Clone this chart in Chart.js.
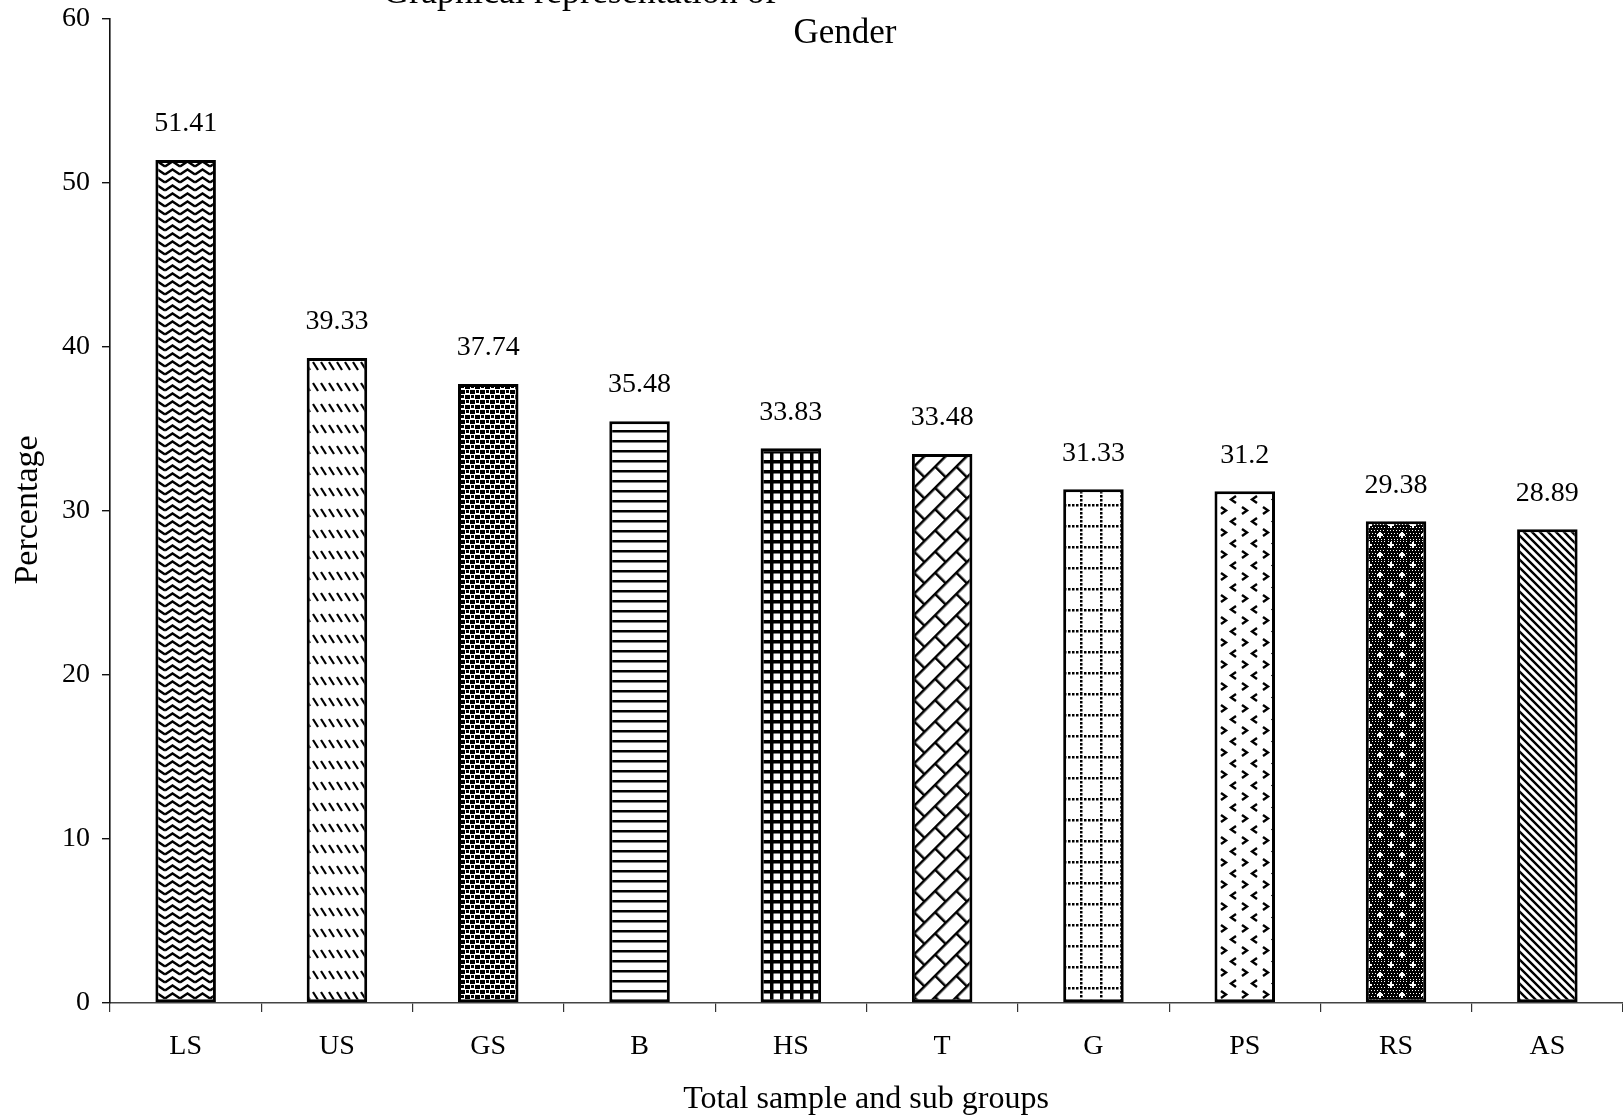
<!DOCTYPE html>
<html>
<head>
<meta charset="utf-8">
<title>Gender</title>
<script src="https://cdn.jsdelivr.net/npm/chart.js@4.4.1/dist/chart.umd.min.js"></script>
<style>
  html, body { margin: 0; padding: 0; background: #fff; overflow: hidden; }
  canvas { display: block; }
</style>
</head>
<body>
<canvas id="genderChart" width="1623" height="1118"></canvas>
<script>
// Sub group percentages
const groups = ['LS', 'US', 'GS', 'B', 'HS', 'T', 'G', 'PS', 'RS', 'AS'];
const percentages = [51.41, 39.33, 37.74, 35.48, 33.83, 33.48, 31.33, 31.2, 29.38, 28.89];
const yTicks = [0, 10, 20, 30, 40, 50, 60];

const FONT = "'Liberation Serif', 'Times New Roman', serif";

// Small offscreen tile, black ink on white paper
function tile(w, h, draw, bg) {
    const c = document.createElement('canvas');
    c.width = w;
    c.height = h;
    const g = c.getContext('2d');
    g.fillStyle = bg || '#fff';
    g.fillRect(0, 0, w, h);
    g.fillStyle = '#000';
    g.strokeStyle = '#000';
    g.lineCap = 'butt';
    draw(g, w, h);
    return c;
}

const canvasEl = document.getElementById('genderChart');
const ctx = canvasEl.getContext('2d');

function pattern(c, matrix) {
    const p = ctx.createPattern(c, 'repeat');
    if (matrix) p.setTransform(matrix);
    return p;
}

// One hatch style per bar
const hatches = [
    // LS - wavy zigzag rows
    pattern(tile(15, 8, (g) => {
        g.lineWidth = 2.4;
        g.beginPath();
        g.moveTo(0, 6.5); g.lineTo(7.5, 1.5); g.lineTo(15, 6.5);
        g.stroke();
    })),
    // US - rows of short back-slashes
    pattern(tile(8, 21, (g) => {
        g.lineWidth = 2.2;
        g.beginPath();
        g.moveTo(1, 5); g.lineTo(6, 13);
        g.stroke();
    })),
    // GS - dense staggered blocks
    pattern(tile(10, 10, (g) => {
        g.fillRect(0, 0, 5, 4);
        g.fillRect(5, 5, 5, 4);
        g.fillRect(6, 0, 3, 3);
        g.fillRect(1, 5, 3, 3);
    })),
    // B - horizontal lines
    pattern(tile(4, 10, (g) => {
        g.fillRect(0, 0, 4, 2.5);
    })),
    // HS - heavy grid
    pattern(tile(10, 10, (g) => {
        g.fillRect(0, 0, 10, 3.5);
        g.fillRect(0, 0, 3.5, 10);
    })),
    // T - diagonal brickwork
    pattern(tile(30, 30, (g) => {
        g.fillRect(0, 0, 30, 2.5);
        g.fillRect(0, 15, 30, 2.5);
        g.fillRect(0, 0, 2.5, 15);
        g.fillRect(15, 15, 2.5, 15);
    }), new DOMMatrix().rotateSelf(-45)),
    // G - dotted grid
    pattern(tile(20, 21, (g) => {
        for (let x = 0; x < 20; x += 4) g.fillRect(x, 0, 2.5, 2.5);
        for (let y = 4; y < 21; y += 4) g.fillRect(0, y, 2.5, 2.5);
    })),
    // PS - alternating chevrons
    pattern(tile(21, 22, (g) => {
        g.lineWidth = 2.4;
        g.beginPath();
        g.moveTo(3, 1); g.lineTo(8, 4.5); g.lineTo(3, 8);
        g.moveTo(18, 12); g.lineTo(13, 15.5); g.lineTo(18, 19);
        g.stroke();
    })),
    // RS - black with white speckle and stars
    pattern(tile(22, 20, (g) => {
        g.fillStyle = '#fff';
        for (let y = 1; y < 20; y += 3) {
            for (let x = (y % 2) + 1; x < 22; x += 3) g.fillRect(x, y, 1, 1);
        }
        const star = (cx, cy) => {
            g.fillRect(cx - 1, cy - 3, 2, 6);
            g.fillRect(cx - 3, cy - 1, 6, 2);
        };
        star(5, 5);
        star(16, 15);
    }, '#000')),
    // AS - back-slash diagonals
    pattern(tile(8, 8, (g) => {
        g.lineWidth = 2.4;
        g.beginPath();
        g.moveTo(-1, -1); g.lineTo(9, 9);
        g.moveTo(-9, -1); g.lineTo(1, 9);
        g.moveTo(7, -1); g.lineTo(17, 9);
        g.stroke();
    })),
];

// Values printed above each bar
const valueLabels = {
    id: 'valueLabels',
    afterDatasetsDraw(chart) {
        const c = chart.ctx;
        const meta = chart.getDatasetMeta(0);
        c.save();
        c.fillStyle = '#000';
        c.font = '28px ' + FONT;
        c.textAlign = 'center';
        c.textBaseline = 'bottom';
        meta.data.forEach((bar, i) => {
            c.fillText(String(percentages[i]), bar.x, bar.y - 22);
        });
        c.restore();
    }
};

// Heading and axis titles
const chartText = {
    id: 'chartText',
    afterDraw(chart) {
        const c = chart.ctx;
        c.save();
        c.fillStyle = '#000';

        c.font = '36px ' + FONT;
        c.textAlign = 'left';
        c.textBaseline = 'alphabetic';
        c.fillText('Graphical representation of', 383, 3);

        c.font = '35px ' + FONT;
        c.textAlign = 'center';
        c.textBaseline = 'middle';
        c.fillText('Gender', 845, 34);

        c.font = '32px ' + FONT;
        c.fillText('Total sample and sub groups', 866, 1100);

        c.font = '34px ' + FONT;
        c.translate(28, 510);
        c.rotate(-Math.PI / 2);
        c.fillText('Percentage', 0, 0);
        c.restore();
    }
};

// Keep the plot box fixed instead of reserving room for half tick labels
function noEdgePadding(scale) {
    scale.paddingTop = 0;
    scale.paddingBottom = 0;
    scale.paddingLeft = 0;
    scale.paddingRight = 0;
}

new Chart(ctx, {
    type: 'bar',
    data: {
        labels: groups,
        datasets: [{
            data: percentages,
            backgroundColor: hatches,
            borderColor: '#000',
            borderWidth: 3,
            borderSkipped: false,
            barPercentage: 0.4,
            categoryPercentage: 1.0,
        }]
    },
    options: {
        responsive: false,
        animation: false,
        devicePixelRatio: 1,
        layout: { padding: { top: 19, right: 0, bottom: 0, left: 0 } },
        plugins: {
            legend: { display: false },
            tooltip: { enabled: false },
        },
        scales: {
            x: {
                afterFit(scale) {
                    scale.height = 115;
                    noEdgePadding(scale);
                },
                grid: {
                    offset: true,
                    drawOnChartArea: false,
                    drawTicks: true,
                    tickLength: 9,
                    color: '#333',
                    lineWidth: 1.2,
                },
                border: { display: true, color: '#444', width: 1.4 },
                ticks: {
                    color: '#000',
                    font: { family: FONT, size: 28 },
                    padding: 18,
                    maxRotation: 0,
                },
            },
            y: {
                min: 0,
                max: 60,
                afterFit(scale) {
                    scale.width = 110;
                    noEdgePadding(scale);
                },
                afterBuildTicks(scale) {
                    scale.ticks = yTicks.map(v => ({ value: v }));
                },
                grid: {
                    drawOnChartArea: false,
                    drawTicks: true,
                    tickLength: 8,
                    color: '#111',
                    lineWidth: 1.4,
                },
                border: { display: true, color: '#111', width: 1.6 },
                ticks: {
                    color: '#000',
                    font: { family: FONT, size: 28 },
                    padding: 12,
                },
            },
        },
    },
    plugins: [valueLabels, chartText],
});
</script>
</body>
</html>
